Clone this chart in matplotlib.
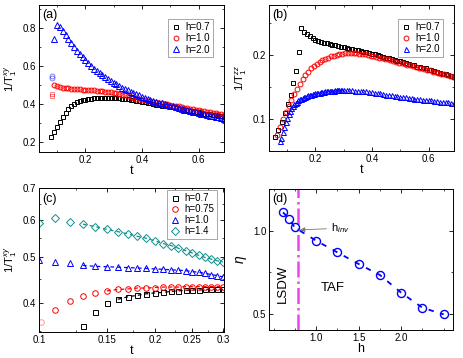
import matplotlib
matplotlib.use("Agg")
import matplotlib.pyplot as plt
from matplotlib.ticker import MultipleLocator, FixedLocator, NullFormatter

plt.rcParams['font.family'] = ['Liberation Sans', 'DejaVu Sans']
plt.rcParams['mathtext.fontset'] = 'custom'
plt.rcParams['mathtext.rm'] = 'Liberation Sans'
plt.rcParams['mathtext.it'] = 'Liberation Sans:italic'

# ---- panel (a): 1/T1^xy vs t ----
t_a = [0.08, 0.09, 0.10, 0.11, 0.12, 0.13, 0.14, 0.15, 0.16, 0.17, 0.18, 0.19, 0.20,
       0.21, 0.22, 0.23, 0.24, 0.25, 0.26, 0.27, 0.28, 0.29, 0.30, 0.31, 0.32, 0.33,
       0.34, 0.35, 0.36, 0.37, 0.38, 0.39, 0.40, 0.41, 0.42, 0.43, 0.44, 0.45, 0.46,
       0.47, 0.48, 0.49, 0.50, 0.51, 0.52, 0.53, 0.54, 0.55, 0.56, 0.57, 0.58, 0.59,
       0.60, 0.61, 0.62, 0.63, 0.64, 0.65, 0.66, 0.67, 0.68, 0.69, 0.70]
a_h07 = [0.222, 0.250, 0.278, 0.305, 0.330, 0.352, 0.372, 0.388, 0.400, 0.408, 0.414,
         0.418, 0.421, 0.424, 0.426, 0.428, 0.429, 0.430, 0.431, 0.431, 0.431, 0.431,
         0.430, 0.429, 0.428, 0.427, 0.425, 0.423, 0.421, 0.419, 0.416, 0.413, 0.410,
         0.407, 0.404, 0.401, 0.398, 0.395, 0.392, 0.389, 0.387, 0.385, 0.383, 0.380,
         0.377, 0.374, 0.371, 0.368, 0.365, 0.362, 0.359, 0.356, 0.354, 0.351, 0.348,
         0.346, 0.343, 0.341, 0.338, 0.336, 0.333, 0.331, 0.329]
a_h10 = [None, 0.500, 0.494, 0.489, 0.485, 0.482, 0.480, 0.478, 0.477, 0.476, 0.475,
         0.474, 0.473, 0.472, 0.471, 0.470, 0.469, 0.467, 0.466, 0.464, 0.463, 0.461,
         0.458, 0.455, 0.451, 0.447, 0.443, 0.439, 0.435, 0.431, 0.427, 0.424, 0.421,
         0.418, 0.415, 0.413, 0.410, 0.407, 0.404, 0.402, 0.399, 0.396, 0.393, 0.390,
         0.388, 0.385, 0.382, 0.379, 0.377, 0.374, 0.371, 0.368, 0.365, 0.363, 0.360,
         0.357, 0.354, 0.352, 0.349, 0.346, 0.343, 0.341, 0.338]
a_h20 = [None, 0.740, 0.812, 0.805, 0.785, 0.762, 0.740, 0.720, 0.700, 0.680, 0.662,
         0.645, 0.628, 0.613, 0.599, 0.585, 0.573, 0.561, 0.550, 0.539, 0.529, 0.519,
         0.510, 0.501, 0.493, 0.485, 0.477, 0.470, 0.463, 0.456, 0.449, 0.443, 0.437,
         0.431, 0.426, 0.421, 0.416, 0.411, 0.406, 0.401, 0.397, 0.393, 0.389, 0.385,
         0.381, 0.377, 0.373, 0.369, 0.365, 0.361, 0.357, 0.354, 0.350, 0.347, 0.343,
         0.340, 0.337, 0.334, 0.330, 0.327, 0.324, 0.321, 0.318]
# faint early points
a_faint_t = [0.082, 0.082]
a_faint_h10 = [0.442, 0.452]
a_faint_h20 = [0.533, 0.546]

# ---- panel (b): 1/T1^zz vs t ----
tb_h07 = [0.057, 0.069, 0.081, 0.092, 0.102, 0.112, 0.122, 0.132, 0.142, 0.150,
          0.16, 0.17, 0.18, 0.19, 0.20, 0.21, 0.22, 0.23, 0.24, 0.25, 0.26, 0.27,
          0.28, 0.29, 0.30, 0.31, 0.32, 0.33, 0.34, 0.35, 0.36, 0.37, 0.38, 0.39,
          0.40, 0.41, 0.42, 0.43, 0.44, 0.45, 0.46, 0.47, 0.48, 0.49, 0.50, 0.51,
          0.52, 0.53, 0.54, 0.55, 0.56, 0.57, 0.58, 0.59, 0.60, 0.61, 0.62, 0.63,
          0.64, 0.65, 0.66, 0.67, 0.68, 0.69, 0.70]
b_h07 = [0.072, 0.083, 0.096, 0.109, 0.123, 0.138, 0.156, 0.175, 0.204, 0.242,
         0.236, 0.232, 0.229, 0.226, 0.224, 0.222, 0.221, 0.219, 0.218, 0.217, 0.216,
         0.215, 0.214, 0.213, 0.212, 0.211, 0.210, 0.209, 0.208, 0.207, 0.206, 0.205,
         0.204, 0.203, 0.202, 0.201, 0.200, 0.199, 0.197, 0.196, 0.195, 0.194, 0.192,
         0.191, 0.190, 0.189, 0.187, 0.186, 0.185, 0.184, 0.182, 0.181, 0.180, 0.179,
         0.177, 0.176, 0.175, 0.174, 0.172, 0.171, 0.170, 0.168, 0.167, 0.166, 0.165]
tb_h10 = [0.065, 0.075, 0.085, 0.095, 0.105, 0.115, 0.125, 0.135, 0.145, 0.155,
          0.165, 0.175, 0.185, 0.195, 0.205, 0.215, 0.225, 0.235, 0.245, 0.255,
          0.265, 0.275, 0.285, 0.295, 0.305, 0.315, 0.325, 0.335, 0.345, 0.355,
          0.365, 0.375, 0.385, 0.395, 0.405, 0.415, 0.425, 0.435, 0.445, 0.455,
          0.465, 0.475, 0.485, 0.495, 0.505, 0.515, 0.525, 0.535, 0.545, 0.555,
          0.565, 0.575, 0.585, 0.595, 0.605, 0.615, 0.625, 0.635, 0.645, 0.655,
          0.665, 0.675, 0.685, 0.695]
b_h10 = [0.075, 0.087, 0.100, 0.111, 0.121, 0.130, 0.139, 0.147, 0.155, 0.162,
         0.168, 0.174, 0.179, 0.183, 0.186, 0.189, 0.192, 0.194, 0.196, 0.198,
         0.199, 0.200, 0.201, 0.202, 0.203, 0.203, 0.203, 0.203, 0.203, 0.202,
         0.202, 0.201, 0.200, 0.199, 0.198, 0.197, 0.196, 0.195, 0.194, 0.193,
         0.192, 0.190, 0.189, 0.188, 0.187, 0.186, 0.185, 0.184, 0.183, 0.181,
         0.180, 0.179, 0.178, 0.177, 0.176, 0.174, 0.173, 0.172, 0.171, 0.170,
         0.168, 0.167, 0.166, 0.165]
tb_h20 = [0.075, 0.080, 0.085, 0.090, 0.095, 0.100, 0.105, 0.110, 0.115, 0.120,
          0.125, 0.130, 0.135, 0.140, 0.145, 0.150, 0.155, 0.160, 0.165, 0.170,
          0.175, 0.180, 0.185, 0.190, 0.195, 0.200, 0.205, 0.210, 0.215, 0.220,
          0.225, 0.230, 0.235, 0.240, 0.245, 0.250, 0.255, 0.260, 0.265, 0.270,
          0.275, 0.280, 0.285, 0.290, 0.295, 0.300,
          0.31, 0.32, 0.33, 0.34, 0.35, 0.36, 0.37, 0.38, 0.39, 0.40, 0.41, 0.42,
          0.43, 0.44, 0.45, 0.46, 0.47, 0.48, 0.49, 0.50, 0.51, 0.52, 0.53, 0.54,
          0.55, 0.56, 0.57, 0.58, 0.59, 0.60, 0.61, 0.62, 0.63, 0.64, 0.65, 0.66,
          0.67, 0.68, 0.69, 0.70]
b_h20 = [0.066, 0.071, 0.079, 0.087, 0.095, 0.102, 0.108, 0.113, 0.117, 0.120,
         0.123, 0.125, 0.127, 0.129, 0.131, 0.132, 0.133, 0.134, 0.135, 0.136,
         0.137, 0.137, 0.138, 0.139, 0.139, 0.140, 0.140, 0.141, 0.141, 0.142,
         0.142, 0.142, 0.143, 0.143, 0.143, 0.144, 0.144, 0.144, 0.144, 0.145,
         0.145, 0.145, 0.145, 0.145, 0.145, 0.145,
         0.145, 0.145, 0.145, 0.144, 0.144, 0.144, 0.143, 0.143, 0.142, 0.142,
         0.141, 0.140, 0.140, 0.139, 0.138, 0.138, 0.137, 0.136, 0.136, 0.135,
         0.134, 0.134, 0.133, 0.133, 0.132, 0.131, 0.131, 0.130, 0.130, 0.129,
         0.129, 0.128, 0.128, 0.127, 0.127, 0.126, 0.126, 0.125, 0.125, 0.124]

# ---- panel (c): log-log 1/T1^xy vs t ----
t_c = [0.10, 0.11, 0.12, 0.13, 0.14, 0.15, 0.16, 0.17, 0.18, 0.19, 0.20,
       0.21, 0.22, 0.23, 0.24, 0.25, 0.26, 0.27, 0.28, 0.29, 0.30]
c_h07 = [None, None, None, 0.358, 0.383, 0.400, 0.408, 0.413, 0.416, 0.419, 0.421,
         0.422, 0.424, 0.425, 0.426, 0.427, 0.427, 0.428, 0.428, 0.428, 0.428]
c_h075 = [None, 0.388, 0.405, 0.414, 0.421, 0.425, 0.428, 0.429, 0.431, 0.431, 0.432,
          0.433, 0.433, 0.433, 0.434, 0.434, 0.434, 0.434, 0.434, 0.434, 0.434]
c_h10 = [0.494, 0.488, 0.486, 0.481, 0.479, 0.478, 0.477, 0.476, 0.475, 0.474, 0.473,
         0.472, 0.471, 0.470, 0.469, 0.467, 0.465, 0.463, 0.460, 0.458, 0.455]
c_h14 = [0.590, 0.607, 0.595, 0.588, 0.581, 0.573, 0.567, 0.561, 0.554, 0.549, 0.542,
         0.535, 0.530, 0.523, 0.517, 0.511, 0.505, 0.500, 0.496, 0.492, 0.489]
c_faint_t = [0.101]
c_faint_h075 = [0.365]

# ---- panel (d): eta vs h ----
h_d = [0.61, 0.685, 0.745, 1.0, 1.25, 1.5, 1.75, 2.0, 2.25, 2.5]
eta_d = [1.11, 1.07, 1.02, 0.94, 0.87, 0.80, 0.734, 0.628, 0.538, 0.498]
h_inv = 0.79

fig = plt.figure(figsize=(4.63, 3.58), dpi=100)
ax_a = fig.add_axes([0.0842, 0.5754, 0.3996, 0.4106])
ax_b = fig.add_axes([0.581, 0.578, 0.3996, 0.408])
ax_c = fig.add_axes([0.0842, 0.0726, 0.3996, 0.4014])
ax_d = fig.add_axes([0.581, 0.078, 0.3975, 0.394])

BLK, RED, BLU, TEAL = 'black', '#ff0000', '#0000ff', '#138f8a'
mk = dict(ls='none', mfc='none', mew=0.7)


def style(ax):
    ax.tick_params(which='both', direction='in', top=True, right=True, labelsize=7, pad=2)
    ax.tick_params(which='major', length=3, width=0.6)
    ax.tick_params(which='minor', length=1.6, width=0.5)
    for s in ax.spines.values():
        s.set_linewidth(0.7)


def legend(ax, anchor):
    lg = ax.legend(loc='upper right', bbox_to_anchor=anchor, borderaxespad=0,
                   fontsize=7, numpoints=1, handlelength=1.0,
                   handletextpad=0.5, borderpad=0.3, labelspacing=0.12,
                   fancybox=False, edgecolor='#999999', framealpha=1)
    lg.get_frame().set_linewidth(0.6)


# (a)
ax = ax_a
ax.plot(t_a, a_h07, marker='s', ms=3.2, mec=BLK, label='h=0.7', **mk)
ax.plot(t_a, a_h10, marker='o', ms=3.5, mec=RED, label='h=1.0', **mk)
ax.plot(t_a, a_h20, marker='^', ms=4.2, mec=BLU, label='h=2.0', **mk)
ax.plot(a_faint_t, a_faint_h10, marker='s', ms=3.2, mec=RED, alpha=0.5, **mk)
ax.plot(a_faint_t, a_faint_h20, marker='o', ms=3.5, mec=BLU, alpha=0.5, **mk)
ax.set_xlim(0.036, 0.69)
ax.set_ylim(0.145, 0.92)
ax.xaxis.set_major_locator(MultipleLocator(0.2))
ax.xaxis.set_minor_locator(MultipleLocator(0.1))
ax.yaxis.set_major_locator(MultipleLocator(0.2))
ax.yaxis.set_minor_locator(MultipleLocator(0.1))
ax.set_xlabel('t', fontsize=9, labelpad=0)
ax.set_ylabel(r'1/T$_1^{xy}$', fontsize=8, labelpad=3)
ax.text(0.02, 0.97, '(a)', transform=ax.transAxes, fontsize=9, va='top')
style(ax)
legend(ax, (0.942, 0.903))

# (b)
ax = ax_b
ax.plot(tb_h07, b_h07, marker='s', ms=3.2, mec=BLK, label='h=0.7', **mk)
ax.plot(tb_h10, b_h10, marker='o', ms=3.5, mec=RED, label='h=1.0', **mk)
ax.plot(tb_h20, b_h20, marker='^', ms=3.6, mec=BLU, label='h=2.0', **mk)
ax.set_xlim(0.036, 0.69)
ax.set_ylim(0.05, 0.278)
ax.xaxis.set_major_locator(MultipleLocator(0.2))
ax.xaxis.set_minor_locator(MultipleLocator(0.1))
ax.yaxis.set_major_locator(MultipleLocator(0.1))
ax.yaxis.set_minor_locator(MultipleLocator(0.05))
ax.set_xlabel('t', fontsize=9, labelpad=0)
ax.set_ylabel(r'1/T$_1^{zz}$', fontsize=8, labelpad=3)
ax.text(0.02, 0.97, '(b)', transform=ax.transAxes, fontsize=9, va='top')
style(ax)
legend(ax, (0.942, 0.903))

# (c)
ax = ax_c
ax.set_xscale('log')
ax.set_yscale('log')
dash = dict(ls=(0, (3, 2.5)), lw=0.9)
ax.plot(t_c[6:], c_h07[6:], color=BLK, **dash)
ax.plot(t_c[5:], c_h075[5:], color=RED, **dash)
ax.plot(t_c[3:], c_h10[3:], color=BLU, **dash)
ax.plot(t_c[3:], c_h14[3:], color=TEAL, **dash)
ax.plot(t_c, c_h07, marker='s', ms=3.6, mec=BLK, label='h=0.7', **mk)
ax.plot(t_c, c_h075, marker='o', ms=4.0, mec=RED, label='h=0.75', **mk)
ax.plot(t_c, c_h10, marker='^', ms=4.6, mec=BLU, label='h=1.0', **mk)
ax.plot(t_c, c_h14, marker='D', ms=3.8, mec=TEAL, label='h=1.4', **mk)
ax.plot(c_faint_t, c_faint_h075, marker='o', ms=4.0, mec=RED, alpha=0.4, **mk)
ax.set_xlim(0.1, 0.302)
ax.set_ylim(0.348, 0.7)
ax.xaxis.set_major_locator(FixedLocator([0.1, 0.15, 0.2, 0.25, 0.3]))
ax.xaxis.set_minor_locator(FixedLocator([0.125, 0.175, 0.225, 0.275]))
ax.set_xticklabels(['0.1', '0.15', '0.2', '0.25', '0.3'])
ax.xaxis.set_minor_formatter(NullFormatter())
ax.yaxis.set_major_locator(FixedLocator([0.4, 0.5, 0.6, 0.7]))
ax.yaxis.set_minor_locator(FixedLocator([0.35, 0.45, 0.55, 0.65]))
ax.set_yticklabels(['0.4', '0.5', '0.6', '0.7'])
ax.yaxis.set_minor_formatter(NullFormatter())
ax.set_xlabel('t', fontsize=9, labelpad=0)
ax.set_ylabel(r'1/T$_1^{xy}$', fontsize=8, labelpad=3)
ax.text(0.02, 0.97, '(c)', transform=ax.transAxes, fontsize=9, va='top')
style(ax)
legend(ax, (0.964, 0.988))

# (d)
ax = ax_d
ax.axvline(h_inv, color='#ee44ee', lw=1.8, ls='-.')
ax.plot(h_d, eta_d, color=BLU, lw=1.3, ls=(0, (3, 4)))
ax.plot(h_d, eta_d, marker='o', ms=5.8, mec=BLU, **dict(mk, mew=1.0))
ax.annotate(r'h$_{inv}$', xy=(h_inv + 0.02, 1.005), xytext=(1.17, 1.015),
            fontsize=8, va='center',
            arrowprops=dict(arrowstyle='-|>', color='#777777', lw=0.6,
                            mutation_scale=7, shrinkA=1, shrinkB=0))
ax.text(0.61, 0.68, 'LSDW', rotation=90, fontsize=9.5, ha='center', va='center')
ax.text(1.2, 0.655, 'TAF', fontsize=9.5, ha='center', va='center')
ax.set_xlim(0.445, 2.61)
ax.set_ylim(0.404, 1.25)
ax.xaxis.set_major_locator(FixedLocator([1.0, 1.5, 2.0]))
ax.xaxis.set_minor_locator(FixedLocator([0.5, 0.75, 1.25, 1.75, 2.25, 2.5]))
ax.yaxis.set_major_locator(MultipleLocator(0.5))
ax.yaxis.set_minor_locator(MultipleLocator(0.25))
ax.set_xlabel('h', fontsize=9, labelpad=0)
ax.set_ylabel(r'$\eta$', fontsize=10, labelpad=3)
ax.text(0.02, 0.97, '(d)', transform=ax.transAxes, fontsize=9, va='top')
style(ax)

fig.savefig('out.png', dpi=100)
